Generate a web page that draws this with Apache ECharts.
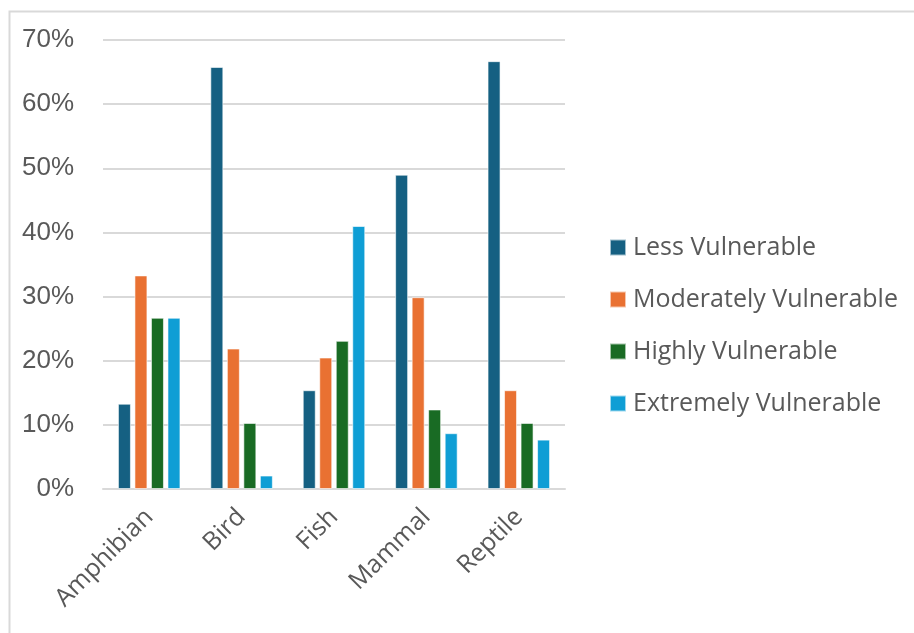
<!DOCTYPE html>
<html>
<head>
<meta charset="utf-8">
<script src="https://cdn.jsdelivr.net/npm/echarts@6/dist/echarts.min.js"></script>
<style>
  html, body { margin: 0; padding: 0; background: #ffffff; }
  #chart { width: 914px; height: 633px; }
</style>
</head>
<body>
<div id="chart"></div>
<script>
// Share of species per vulnerability class, by animal group
const categories = ['Amphibian', 'Bird', 'Fish', 'Mammal', 'Reptile'];
const lessVulnerable = [13.3, 65.8, 15.4, 49.0, 66.7];
const moderatelyVulnerable = [33.3, 21.9, 20.5, 29.9, 15.4];
const highlyVulnerable = [26.7, 10.3, 23.1, 12.4, 10.3];
const extremelyVulnerable = [26.7, 2.1, 41.0, 8.7, 7.7];
const seriesNames = ['Less Vulnerable', 'Moderately Vulnerable', 'Highly Vulnerable', 'Extremely Vulnerable'];
const seriesColors = ['#156082', '#E97132', '#196B24', '#0F9ED5'];
const seriesValues = [lessVulnerable, moderatelyVulnerable, highlyVulnerable, extremelyVulnerable];

const chart = echarts.init(document.getElementById('chart'));

chart.setOption({
  animation: false,
  backgroundColor: '#ffffff',
  graphic: [{
    type: 'rect',
    left: 7, top: 9,
    shape: { width: 920, height: 700 },
    style: { fill: 'none', stroke: '#d9d9d9', lineWidth: 2 },
    silent: true
  }],
  grid: { left: 103, right: 349, top: 40, bottom: 144, containLabel: false },
  legend: {
    orient: 'vertical',
    left: 609,
    top: 235,
    padding: 0,
    icon: 'rect',
    itemWidth: 16,
    itemHeight: 16,
    itemGap: 27,
    textStyle: { fontFamily: 'Open Sans', fontSize: 25, color: '#595959', lineHeight: 25, padding: [0, 0, 0, 2] },
    data: seriesNames
  },
  xAxis: {
    type: 'category',
    data: categories,
    axisLine: { show: true, lineStyle: { color: '#d9d9d9', width: 2 } },
    axisTick: { show: false },
    axisLabel: {
      rotate: 45,
      margin: 24,
      fontFamily: 'Open Sans',
      fontSize: 25,
      color: '#595959',
      interval: 0
    }
  },
  yAxis: {
    type: 'value',
    min: 0,
    max: 70,
    interval: 10,
    axisLine: { show: false },
    axisTick: { show: false },
    splitLine: { lineStyle: { color: '#d9d9d9', width: 2 } },
    axisLabel: {
      formatter: '{value}%',
      margin: 29,
      fontFamily: 'Liberation Sans',
      fontSize: 26,
      color: '#595959'
    }
  },
  series: seriesNames.map((name, i) => ({
    name: name,
    type: 'bar',
    data: seriesValues[i],
    barWidth: 13,
    barGap: '27%',
    itemStyle: { color: seriesColors[i], borderColor: 'rgba(255,255,255,0.6)', borderWidth: 1 }
  }))
});
</script>
</body>
</html>
